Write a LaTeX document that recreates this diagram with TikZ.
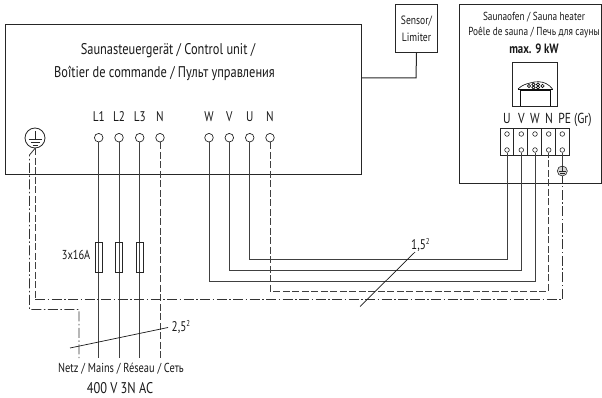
\documentclass[tikz,border=0pt]{standalone}
\usepackage{fontspec}
\setmainfont[FakeStretch=0.8]{PT Sans}
\newfontfamily\boldnarrow[FakeStretch=0.8]{PT Sans Bold}
\begin{document}
\begin{tikzpicture}[x=1pt,y=-1pt,
  wire/.style={draw=black!75,line width=0.95pt},
  boxline/.style={draw=black!85,line width=1pt},
  dashwire/.style={draw=black!75,line width=0.8pt,dash pattern=on 7pt off 2.5pt},
  dotwire/.style={draw=black!80,line width=0.8pt,dash pattern=on 10pt off 2.5pt on 1.5pt off 2.5pt},
  term/.style={circle,draw=black!85,fill=white,line width=0.7pt,minimum size=8.6pt,inner sep=0pt},
  smallterm/.style={circle,draw=black!85,fill=white,line width=0.6pt,minimum size=4.6pt,inner sep=0pt},
  fuse/.style={rectangle,draw=black!85,fill=white,fill opacity=0,line width=0.75pt,minimum width=7.6pt,minimum height=30pt,inner sep=0pt},
  txt/.style={inner sep=0pt,text=black!90,font=\fontsize{13}{15}\selectfont},
  lab/.style={inner sep=0pt,text=black!90,font=\fontsize{15.5}{17}\selectfont,anchor=base}]
\useasboundingbox (0,0) rectangle (602,398);
% boxes
\node[boxline,rectangle,minimum width=356pt,minimum height=150pt,inner sep=0pt,anchor=north west] (unit) at (5,24) {};
\node[boxline,rectangle,minimum width=42pt,minimum height=48pt,inner sep=0pt,anchor=north west,align=center,text=black!90,font=\fontsize{12}{17}\selectfont] (sensor) at (395,4) {Sensor/\\Limiter};
\coordinate (sensorelbow) at (416,78);
\coordinate (unitjoin) at (361,78);
\draw[boxline] (sensor.south) -- (sensorelbow) -- (unitjoin);
\coordinate (htl) at (459,4.5); \coordinate (htr) at (601.5,4.5);
\coordinate (hbl) at (459,183.5); \coordinate (hbr) at (601.5,183.5);
\draw[boxline] (hbr) -- (htr) -- (htl) -- (hbl) -- (hbr);
% main text
\node[lab] (t1) at (168,55) {Saunasteuergerät / Control unit /};
\node[lab] (t2) at (164.5,78) {Boîtier de commande / Пульт управления};
\node[lab,font=\fontsize{11.6}{14}\selectfont] (h1) at (534,20.5) {Saunaofen / Sauna heater};
\node[lab,font=\fontsize{11.6}{14}\selectfont] (h2) at (534,36) {Poêle de sauna / Печь для сауны};
\node[lab,font=\fontsize{13.5}{15}\boldnarrow] (h3) at (534,53.5) {max. 9 kW};
% stove icon
\node[rectangle,draw=black!85,line width=0.6pt,minimum width=44.4pt,minimum height=44.4pt,inner sep=0pt,anchor=north west] (icon) at (512.3,61.7) {};
\begin{scope}[line width=0.65pt,draw=black!95]
\draw (520.3,106) -- (520.3,90) -- (550.3,90) -- (550.3,106);
\draw (518,89) -- (552.5,89);
\draw (518,89) .. controls (522,85) and (526,84) .. (530,83) .. controls (536,81) and (542,81.5) .. (546,83.5) .. controls (549,85) and (551,87) .. (552.5,89);
\foreach \x/\y in {529/86,533.5/84.5,538/84.5,542.5/86,533.5/87.5,538/87.5}
  \draw (\x,\y) circle (1.7pt);
\end{scope}
% terminal block
\node[lab,font=\fontsize{14.5}{16}\selectfont] at (507,124) {U};
\node[lab,font=\fontsize{14.5}{16}\selectfont] at (521.5,124) {V};
\node[lab,font=\fontsize{14.5}{16}\selectfont] at (535,124) {W};
\node[lab,font=\fontsize{14.5}{16}\selectfont] at (549,124) {N};
\node[lab,font=\fontsize{14.5}{16}\selectfont] at (575,124) {PE (Gr)};
\coordinate (b1) at (500,128.3); \coordinate (b2) at (569.3,156);
\draw[boxline] (b1) rectangle (b2);
\foreach \x in {513,527.3,541,555} \draw[boxline,line width=0.7pt] (\x,128.3) -- (\x,156);
\foreach \n/\x in {hu/507,hv/521.3,hw/535,hn/548.7,hp/562.3}{
  \node[smallterm] (\n a) at (\x,134) {};
  \node[smallterm] (\n) at (\x,150) {};
}
% unit terminals
\foreach \n/\l/\x in {L1/L1/98.7,L2/L2/119,L3/L3/139.7,Na/N/160,W/W/209,V/V/229.3,U/U/249.7,Nb/N/270}{
  \node[term] (\n) at (\x,137.7) {};
  \node[lab,font=\fontsize{14}{16}\selectfont] at (\x,122) {\l};
}
% supply wires
\foreach \n/\y in {1/a,2/b,3/c}{
  \coordinate (end\n) at (L\n |- 0,358);
  \draw[wire] (L\n) -- (end\n);
  \node[fuse] (fuse\n) at (L\n |- 0,257) {};
}
\coordinate (endN) at (160,358);
\draw[dashwire] (Na) -- (endN);
\node[txt,anchor=east] (fuselab) at (90.5,255) {3x16A};
% load wires
\coordinate (ew) at (209,281);\coordinate (ev) at (229.3,270);\coordinate (eu) at (249.7,259.3);\coordinate (en) at (270,291);
\draw[wire] (W) -- (ew) -- (ew -| hw) -- (hw);
\draw[wire] (V) -- (ev) -- (ev -| hv) -- (hv);
\draw[wire] (U) -- (eu) -- (eu -| hu) -- (hu);
\draw[dashwire] (Nb) -- (en) -- (en -| hn) -- (hn);
% ground at heater
\node[circle,draw=black!85,fill=black!15,line width=0.6pt,minimum size=10pt,inner sep=0pt] (gh) at (562.3,171) {};
\draw[line width=0.5pt,draw=black!85] (gh.north) -- (gh.center) (558.8,171) -- (565.8,171) (560,173) -- (564.6,173);
\draw[wire,line width=0.7pt] (hp) -- (gh);
% ground at unit
\node[circle,draw=black!85,fill=white,line width=0.8pt,minimum size=20pt,inner sep=0pt] (gu) at (35,138) {};
\draw[line width=0.7pt,draw=black!85] (35,131) -- (35,139) (28.5,139) -- (41.5,139) (30.5,142) -- (39.5,142) (32.5,145) -- (37.5,145);
% PE wires
\coordinate (p1) at (35,299.3); \coordinate (p2) at (562.3,299.3);
\draw[dashwire] (gu) -- (p1);
\draw[dotwire] (p1) -- (p2) -- (gh);
\coordinate (q0) at (29.5,155); \coordinate (q1) at (29.5,309.5); \coordinate (q2) at (79,309.5); \coordinate (q3) at (79,358);
\draw[dotwire] (gu.south) -- (q0) -- (q1) -- (q2) -- (q3);
% slashes
\coordinate (s1a) at (70,348); \coordinate (s1b) at (168,327.5);
\draw[line width=0.7pt,draw=black!90] (s1a) -- (s1b);
\node[txt,anchor=base west,font=\fontsize{14}{16}\selectfont] (s1l) at (171.5,331.5) {2,5\raisebox{5pt}{\fontsize{8.5}{9}\selectfont 2}};
\coordinate (s2a) at (360,306.5); \coordinate (s2b) at (415,252);
\draw[line width=0.7pt,draw=black!90] (s2a) -- (s2b);
\node[txt,anchor=base west,font=\fontsize{14}{16}\selectfont] (s2l) at (411,249.5) {1,5\raisebox{5pt}{\fontsize{8.5}{9}\selectfont 2}};
% bottom
\node[lab,font=\fontsize{13}{15}\selectfont] (b1t) at (121,372) {Netz / Mains / Réseau / Сеть};
\node[lab,font=\fontsize{15.5}{17}\selectfont] (b2t) at (120,393) {400 V 3N AC};
\end{tikzpicture}
\end{document}
